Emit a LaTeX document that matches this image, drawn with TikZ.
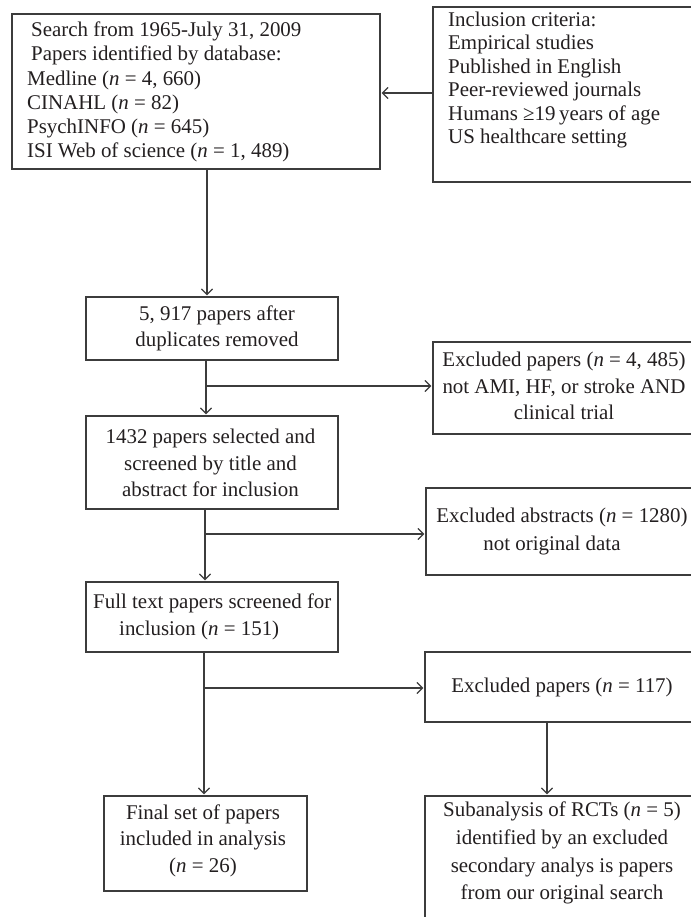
\documentclass[tikz,border=0pt]{standalone}
\usepackage{fontspec}
\setmainfont{Liberation Serif}
\usetikzlibrary{arrows.meta,fit}
\definecolor{ln}{HTML}{3C3C3C}
\definecolor{tx}{HTML}{231F20}
\tikzset{
  boxst/.style={draw=ln, line width=1.3bp, inner sep=0pt, fit={#1}},
  txt/.style={text=tx, inner sep=0pt, font=\fontsize{21}{26.5}\selectfont},
  arr/.style={draw=ln, line width=1.3bp, shorten >=1bp, -{Straight Barb[length=5.5bp,width=11bp]}}
}
\begin{document}
\begin{tikzpicture}[x=1bp,y=-1bp]
\useasboundingbox (0,0) rectangle (691,917);
\fill[white] (0,0) rectangle (691,917);

% boxes
\node[boxst={(12,14) (380,169)}] (search) {};
\node[boxst={(433,7) (700,182)}] (crit) {};
\node[boxst={(86,297) (338,360)}] (dup) {};
\node[boxst={(86,416) (338,509)}] (screen) {};
\node[boxst={(86,582) (338,652)}] (full) {};
\node[boxst={(104,796) (307,891)}] (final) {};
\node[boxst={(433,342) (700,434)}] (exa) {};
\node[boxst={(426,488) (700,575)}] (exb) {};
\node[boxst={(425,652) (700,722)}] (exc) {};
\node[boxst={(425,796) (700,960)}] (sub) {};

% texts
\node[txt, font=\fontsize{21}{24.2}\selectfont, anchor=west, align=left] (searchT) at (27,92)
  {\hspace*{4bp}Search from 1965-July 31, 2009\\
   \hspace*{4bp}Papers identified by database:\\
   Medline (\textit{n} = 4, 660)\\
   CINAHL (\textit{n} = 82)\\
   PsychINFO (\textit{n} = 645)\\
   ISI Web of science (\textit{n} = 1, 489)};
\node[txt, font=\fontsize{21}{23.6}\selectfont, anchor=west, align=left] (critT) at (448,80)
  {Inclusion criteria:\\ Empirical studies\\ Published in English\\ Peer-reviewed journals\\
   Humans ≥19\,years of age\\ US healthcare setting};
\node[txt, align=center] (dupT) at (217,328.5) {5, 917 papers after\\ duplicates removed};
\node[txt, align=center] (screenT) at (210.5,463) {1432 papers selected and\\ screened by title and\\ abstract for inclusion};
\node[txt, anchor=west, align=left] (fullT) at (93,617) {Full text papers screened for\\ \hspace*{26bp}inclusion (\textit{n} = 151)};
\node[txt, align=center, font=\fontsize{21}{25.5}\selectfont] (finalT) at (203,841) {Final set of papers\\ included in analysis\\[2bp] (\textit{n} = 26)};
\node[txt, align=center] (exaT) at (564,386) {Excluded papers (\textit{n} = 4, 485)\\ not AMI, HF, or stroke AND\\ clinical trial};
\node[txt, align=center, font=\fontsize{21}{29}\selectfont] (exbT) at (562,531.5) {Excluded abstracts (\textit{n} = 1280)\\ \hspace*{-20bp}not original data};
\node[txt] (excT) at (562,687) {Excluded papers (\textit{n} = 117)};
\node[txt, align=center, font=\fontsize{21}{28}\selectfont] (subT) at (562,853) {Subanalysis of RCTs (\textit{n} = 5)\\ identified by an excluded\\ secondary analys is papers\\ from our original search};

% connector guides
\coordinate (v1) at (207,0);
\coordinate (v2) at (206,0);
\coordinate (v3) at (205,0);
\coordinate (v4) at (204,0);
\coordinate (v5) at (547,0);
\coordinate (h1) at (0,93);
\coordinate (h2) at (0,386);
\coordinate (h3) at (0,534);
\coordinate (h4) at (0,688);

\draw[arr] (crit.west |- h1) -- (search.east |- h1);
\draw[arr] (search.south -| v1) -- (dup.north -| v1);
\draw[arr] (dup.south -| v2) -- (screen.north -| v2);
\draw[arr] (v2 |- h2) -- (exa.west |- h2);
\draw[arr] (screen.south -| v3) -- (full.north -| v3);
\draw[arr] (v3 |- h3) -- (exb.west |- h3);
\draw[arr] (full.south -| v4) -- (final.north -| v4);
\draw[arr] (v4 |- h4) -- (exc.west |- h4);
\draw[arr] (exc.south -| v5) -- (sub.north -| v5);
\end{tikzpicture}
\end{document}
